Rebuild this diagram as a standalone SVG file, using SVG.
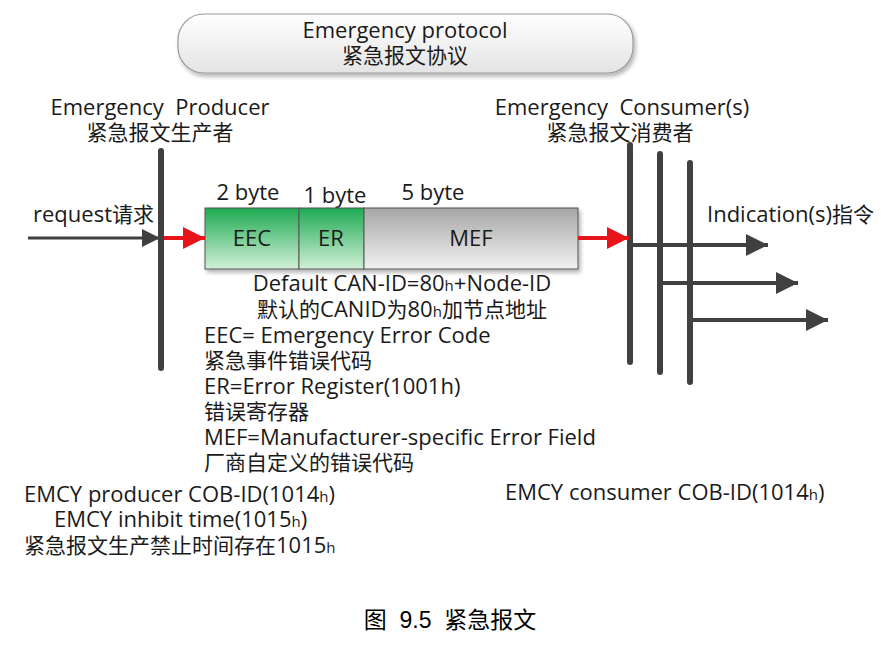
<svg xmlns="http://www.w3.org/2000/svg" width="881" height="648" viewBox="0 0 881 648">
<defs>
<linearGradient id="gTop" x1="0" y1="0" x2="0" y2="1"><stop offset="0" stop-color="#ffffff"/><stop offset="1" stop-color="#e4e4e4"/></linearGradient>
<linearGradient id="gGreen" x1="0" y1="0" x2="0" y2="1"><stop offset="0" stop-color="#1eaa52"/><stop offset="1" stop-color="#d2f0d8"/></linearGradient>
<linearGradient id="gGray" x1="0" y1="0" x2="0" y2="1"><stop offset="0" stop-color="#a6a6a6"/><stop offset="1" stop-color="#f2f2f2"/></linearGradient>
<filter id="sh" x="-5%" y="-20%" width="110%" height="150%"><feDropShadow dx="2" dy="3" stdDeviation="2" flood-color="#000" flood-opacity="0.3"/></filter>
<marker id="aD" viewBox="0 0 10 10" refX="10" refY="5" markerWidth="5.5" markerHeight="5.5" orient="auto" markerUnits="strokeWidth"><path d="M0,0L10,5L0,10z" fill="#404040"/></marker>
<marker id="aS" viewBox="0 0 10 10" refX="10" refY="5" markerWidth="6" markerHeight="6" orient="auto" markerUnits="strokeWidth"><path d="M0,0L10,5L0,10z" fill="#404040"/></marker>
<marker id="aR" viewBox="0 0 10 10" refX="10" refY="5" markerWidth="5.5" markerHeight="5.5" orient="auto" markerUnits="strokeWidth"><path d="M0,0L10,5L0,10z" fill="#e8141b"/></marker>
<style>
text{font-family:"Open Sans","Noto Sans CJK SC",sans-serif;font-size:22px;fill:#1a1a1a}
.k{font-size:21px}
.c{text-anchor:middle}
.s{font-size:15px}
.bar{stroke:#404040;stroke-width:6;stroke-linecap:round;fill:none}
.ln{stroke:#404040;stroke-width:4;fill:none}
.thin{stroke:#404040;stroke-width:3;fill:none}
.red{stroke:#e8141b;stroke-width:4;fill:none}
.cap{font-family:"Liberation Sans","Noto Sans CJK SC",sans-serif;font-size:23px;fill:#000}
</style>
</defs>
<rect width="881" height="648" fill="#fff"/>

<g id="title">
<rect x="178" y="14" width="455" height="59" rx="26" fill="url(#gTop)" stroke="#9a9a9a" stroke-width="1.2" filter="url(#sh)"/>
<text class="c" x="405" y="38">Emergency protocol</text>
<text class="c k" x="405" y="63">紧急报文协议</text>
</g>

<g id="producer">
<text class="c" x="160" y="115" xml:space="preserve">Emergency  Producer</text>
<text class="c k" x="160" y="140">紧急报文生产者</text>
<line class="bar" x1="161" y1="151" x2="161" y2="368"/>
</g>

<g id="consumers">
<text class="c" x="622" y="115" xml:space="preserve">Emergency  Consumer(s)</text>
<text class="c k" x="620" y="140">紧急报文消费者</text>
<line class="bar" x1="630" y1="145" x2="630" y2="362"/>
<line class="bar" x1="660" y1="154" x2="660" y2="372"/>
<line class="bar" x1="690" y1="163" x2="690" y2="382"/>
</g>

<g id="frame">
<text class="c" x="248" y="200">2 byte</text>
<text class="c" x="335" y="203">1 byte</text>
<text class="c" x="433" y="200">5 byte</text>
<g filter="url(#sh)">
<rect x="205" y="208" width="94" height="61" fill="url(#gGreen)" stroke="#555" stroke-width="1"/>
<rect x="299" y="208" width="65" height="61" fill="url(#gGreen)" stroke="#555" stroke-width="1"/>
<rect x="364" y="208" width="214" height="61" fill="url(#gGray)" stroke="#555" stroke-width="1"/>
</g>
<text class="c" x="252" y="246">EEC</text>
<text class="c" x="331" y="246">ER</text>
<text class="c" x="471" y="246">MEF</text>
</g>

<g id="connectors">
<line class="thin" x1="28" y1="238" x2="160" y2="238" marker-end="url(#aS)"/>
<line class="red" x1="164" y1="238" x2="205" y2="238" marker-end="url(#aR)"/>
<line class="red" x1="578" y1="238" x2="629" y2="238" marker-end="url(#aR)"/>
<line class="ln" x1="630" y1="245" x2="768" y2="245" marker-end="url(#aD)"/>
<line class="ln" x1="660" y1="283" x2="798" y2="283" marker-end="url(#aD)"/>
<line class="ln" x1="690" y1="320" x2="828" y2="320" marker-end="url(#aD)"/>
</g>

<g id="labels">
<text x="33" y="222">request<tspan class="k">请求</tspan></text>
<text x="707" y="222">Indication(s)<tspan class="k">指令</tspan></text>
<text class="c" x="402" y="291">Default CAN-ID=80<tspan class="s">h</tspan>+Node-ID</text>
<text class="c k" x="402" y="317">默认的<tspan font-size="22">CANID</tspan>为<tspan font-size="22">80</tspan><tspan class="s">h</tspan>加节点地址</text>
<text x="204" y="343">EEC= Emergency Error Code</text>
<text class="k" x="204" y="368">紧急事件错误代码</text>
<text x="204" y="394">ER=Error Register(1001h)</text>
<text class="k" x="204" y="419">错误寄存器</text>
<text x="204" y="445">MEF=Manufacturer-specific Error Field</text>
<text class="k" x="204" y="470">厂商自定义的错误代码</text>
<text x="24" y="502">EMCY producer COB-ID(1014<tspan class="s">h</tspan>)</text>
<text x="54" y="527">EMCY inhibit time(1015<tspan class="s">h</tspan>)</text>
<text class="k" x="24" y="553">紧急报文生产禁止时间存在<tspan font-size="22">1015</tspan><tspan class="s">h</tspan></text>
<text x="505" y="500">EMCY consumer COB-ID(1014<tspan class="s">h</tspan>)</text>
</g>

<text class="cap c" x="450" y="628" xml:space="preserve">图  9.5  紧急报文</text>
</svg>
